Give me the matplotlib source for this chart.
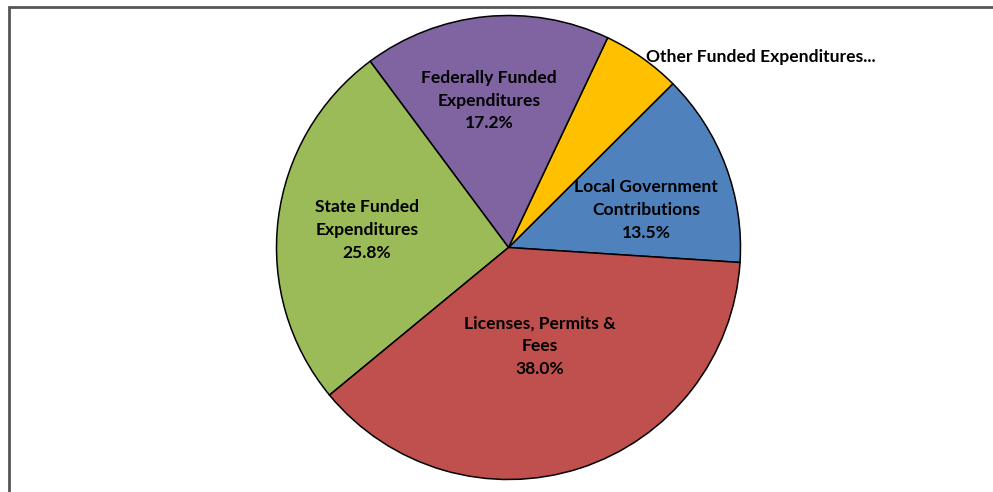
import matplotlib
matplotlib.use("Agg")
import matplotlib.pyplot as plt
from matplotlib.patches import Rectangle

categories = ["Local Government\nContributions", "Other Funded Expenditures...",
              "Federally Funded\nExpenditures", "State Funded\nExpenditures",
              "Licenses, Permits &\nFees"]
values = [13.5, 5.5, 17.2, 25.8, 38.0]
colors = ["#4F81BD", "#FFC000", "#8064A2", "#9BBB59", "#C0504D"]

W, H = 993, 492
fig = plt.figure(figsize=(W / 100, H / 100), dpi=100)
ax = fig.add_axes([0, 0, 1, 1])
ax.set_xlim(0, W)
ax.set_ylim(0, H)
ax.set_aspect("equal")
ax.axis("off")

cx, cy, r = 508.5, H - 247.5, 232
ax.pie(values, colors=colors, startangle=-3.7, counterclock=True,
       center=(cx, cy), radius=r, frame=True,
       wedgeprops=dict(edgecolor="black", linewidth=1.1))
ax.set_xlim(0, W)
ax.set_ylim(0, H)
ax.axis("off")

font = dict(family=["Lato", "DejaVu Sans"], fontweight="bold", fontsize=12.6, color="black")
label_pos = [(646, 210, "center"), (646, 57, "left"), (489, 101, "center"),
             (367, 230, "center"), (540, 346, "center")]
for cat, val, (x, y, ha) in zip(categories, values, label_pos):
    if ha == "left":
        txt = cat
    else:
        txt = f"{cat}\n{val:.1f}%"
    ax.text(x, H - y, txt, ha=ha, va="center", linespacing=1.5, **font)

fig.patches.append(Rectangle((8.5 / W, -0.1), 2.0, (H - 6.5) / H + 0.1,
                             transform=fig.transFigure, fill=False,
                             edgecolor="#555555", linewidth=2.0))

fig.savefig("out.png", dpi=100)
